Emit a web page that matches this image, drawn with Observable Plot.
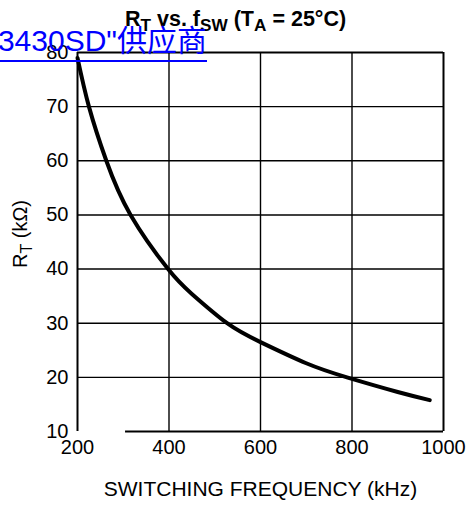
<!DOCTYPE html>
<html>
<head>
<meta charset="utf-8">
<script src="https://cdn.jsdelivr.net/npm/d3@7"></script>
<script src="https://cdn.jsdelivr.net/npm/@observablehq/plot@0.6"></script>
<style>
  html, body { margin: 0; padding: 0; background: #fff; }
  #wrap { position: relative; width: 468px; height: 507px; overflow: hidden; font-family: "Liberation Sans", Arial, sans-serif; }
  #title { position: absolute; left: 125px; top: 9px; font-weight: bold; font-size: 21.5px; color: #000; white-space: nowrap; line-height: 1; }
  #title sub { font-size: 0.8em; vertical-align: -0.3em; line-height: 0; }
  #link { position: absolute; right: 261px; top: 26px; color: #0000ff; font-size: 30px; white-space: nowrap; text-decoration: underline; text-decoration-thickness: 2px; text-underline-offset: 9px; font-family: "Liberation Sans", "Noto Sans CJK SC", sans-serif; line-height: 1; }
</style>
</head>
<body>
<div id="wrap"></div>
<script>
// Curve
const freqKHz = [200, 225, 263, 316, 398, 450, 527, 600, 700, 789, 900, 970];
const rtKOhm  = [79,  70,  60,  50,  40,  35.4, 30, 26.5, 22.6, 20, 17.3, 15.8];
const xTicks = [200, 400, 600, 800, 1000];
const yTicks = [10, 20, 30, 40, 50, 60, 70, 80];
const xLabel = "SWITCHING FREQUENCY (kHz)";
const yLabelMain = "R";
const yLabelSub = "T";
const yLabelRest = " (k\u03A9)";

const data = freqKHz.map((f, i) => ({f, r: rtKOhm[i]}));

const plot = Plot.plot({
  width: 468,
  height: 507,
  marginLeft: 77,
  marginRight: 25,
  marginTop: 52,
  marginBottom: 76,
  style: {fontFamily: "'Liberation Sans', Arial, sans-serif", fontSize: "20px", color: "#000", background: "#fff"},
  x: {domain: [200, 1000]},
  y: {domain: [10, 80]},
  marks: [
    Plot.ruleX(xTicks.slice(1, -1), {stroke: "#000", strokeWidth: 1.4}),
    Plot.ruleY(yTicks.slice(1, -1), {stroke: "#000", strokeWidth: 1.4}),
    Plot.ruleX([200, 1000], {stroke: "#000", strokeWidth: 2}),
    Plot.ruleY([80], {stroke: "#000", strokeWidth: 2}),
    Plot.ruleY([10], {x1: 305, x2: 1000, stroke: "#000", strokeWidth: 2}),
    Plot.line(data, {x: "f", y: "r", curve: "natural", stroke: "#000", strokeWidth: 4}),
    Plot.axisX(xTicks, {tickSize: 0, tickPadding: 8, tickFormat: d3.format("d"), label: xLabel, labelAnchor: "center", labelArrow: "none", labelOffset: 64, fontSize: 21}),
    Plot.axisY(yTicks, {tickSize: 0, tickPadding: 9, tickFormat: d3.format("d"), label: null, fontSize: 20}),
    Plot.text([yLabelMain + yLabelSub + yLabelRest], {frameAnchor: "left", textAnchor: "middle", dx: -57, dy: -8, rotate: -90, fontSize: 20, text: d => d, className: "ylab"})
  ]
});

const wrap = document.getElementById("wrap");
wrap.appendChild(plot);

// tick labels at 20px, axis label at 21px
plot.querySelectorAll("[aria-label='x-axis tick label'] text, [aria-label='y-axis tick label'] text").forEach(n => n.setAttribute("font-size", "20"));

// subscript in the y label
const yl = plot.querySelector(".ylab text");
if (yl) {
  yl.textContent = "";
  const ns = "http://www.w3.org/2000/svg";
  const a = document.createElementNS(ns, "tspan"); a.textContent = yLabelMain;
  const b = document.createElementNS(ns, "tspan"); b.textContent = yLabelSub; b.setAttribute("font-size", "16"); b.setAttribute("dy", "5");
  const c = document.createElementNS(ns, "tspan"); c.textContent = yLabelRest; c.setAttribute("dy", "-5");
  yl.append(a, b, c);
}

const t = document.createElement("div");
t.id = "title";
t.innerHTML = "R<sub>T</sub> vs. f<sub>SW</sub> (T<sub>A</sub> = 25°C)";
wrap.appendChild(t);
const l = document.createElement("div");
l.id = "link";
l.textContent = "LM3430SD\"供应商";
wrap.appendChild(l);
</script>
</body>
</html>
